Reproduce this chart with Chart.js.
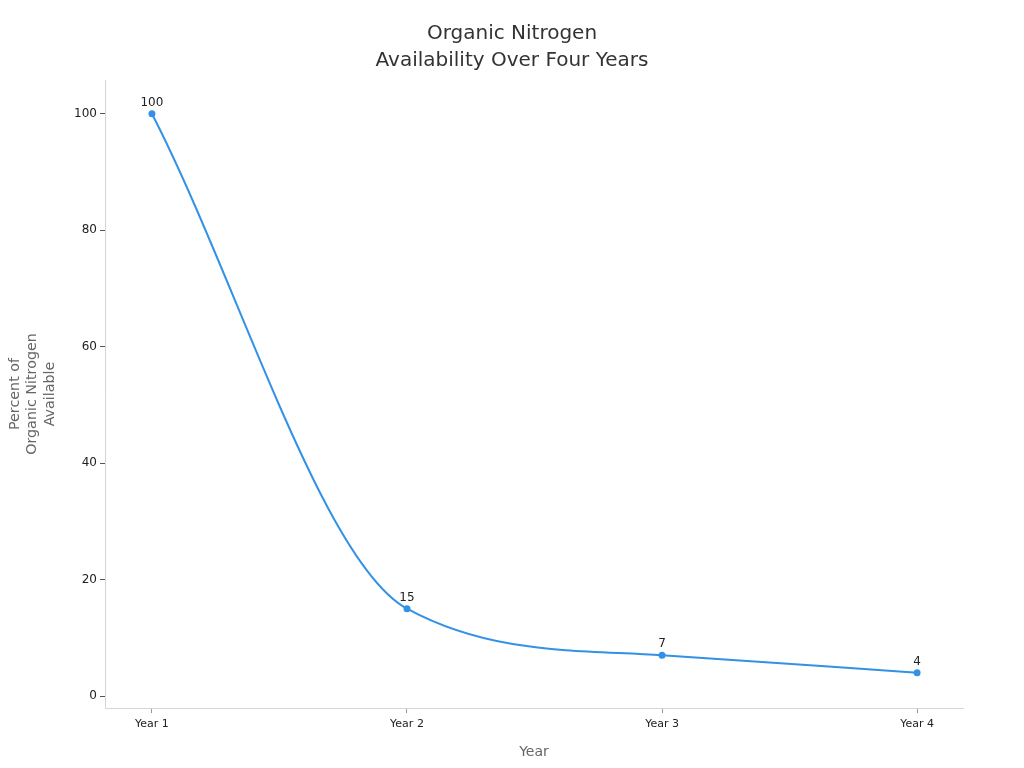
<!DOCTYPE html>
<html><head><meta charset="utf-8">
<script src="https://cdn.jsdelivr.net/npm/chart.js@4"></script>
<style>html,body{margin:0;padding:0;background:#fff}#wrap{width:1024px;height:768px}</style>
</head><body><div id="wrap"><canvas id="c" width="1024" height="768"></canvas></div>
<script>
const categories = ["Year 1", "Year 2", "Year 3", "Year 4"];
const nitrogenValues = [100, 15, 7, 4];
const yTickValues = [0, 20, 40, 60, 80, 100];
const chartTitle = ["Organic Nitrogen", "Availability Over Four Years"];
const yTitle = ["Percent of", "Organic Nitrogen", "Available"];
const xTitle = "Year";

const labelPlugin = {
  id: 'pointLabels',
  afterDatasetsDraw(chart) {
    const ctx = chart.ctx;
    const meta = chart.getDatasetMeta(0);
    ctx.save();
    ctx.font = '12px "DejaVu Sans"';
    ctx.fillStyle = '#222';
    ctx.textAlign = 'center';
    ctx.textBaseline = 'bottom';
    meta.data.forEach((pt, i) => {
      ctx.fillText(String(nitrogenValues[i]), pt.x, pt.y - 5);
    });
    ctx.restore();
  }
};

const titlePlugin = {
  id: 'pageTitle',
  afterDraw(chart) {
    const ctx = chart.ctx;
    ctx.save();
    ctx.font = '20px "DejaVu Sans"';
    ctx.fillStyle = '#333';
    ctx.textAlign = 'center';
    ctx.textBaseline = 'middle';
    chartTitle.forEach((t, i) => ctx.fillText(t, chart.width / 2, 34 + i * 27));
    ctx.restore();
  }
};

Chart.defaults.font.family = '"DejaVu Sans"';
new Chart(document.getElementById('c'), {
  type: 'line',
  data: {
    datasets: [{
      data: nitrogenValues.map((v, i) => ({x: i, y: v})),
      borderColor: '#3391e6',
      backgroundColor: '#3391e6',
      borderWidth: 2,
      pointRadius: 2.5,
      pointHoverRadius: 2.5,
      cubicInterpolationMode: 'monotone',
      fill: false
    }]
  },
  options: {
    responsive: false,
    animation: false,
    layout: {padding: {left: 7, right: 61, top: 80, bottom: 0}},
    plugins: {
      legend: {display: false},
      tooltip: {enabled: false},
      title: {display: false}
    },
    scales: {
      x: {
        type: 'linear',
        min: -0.184,
        max: 3.18,
        afterBuildTicks: s => { s.ticks = categories.map((c, i) => ({value: i})); },
        ticks: {
          callback: v => categories[v],
          color: '#222',
          font: {size: 11},
          padding: 5,
          autoSkip: false,
          maxRotation: 0
        },
        grid: {drawOnChartArea: false, drawTicks: true, tickLength: 5, color: '#999'},
        border: {display: true, color: '#d6d6d6'},
        title: {display: true, text: xTitle, color: '#666', font: {size: 14}, padding: {top: 4, bottom: 7}},
        afterFit: s => { s.height = 60; }
      },
      y: {
        min: -2.06,
        max: 105.8,
        afterBuildTicks: s => { s.ticks = yTickValues.map(v => ({value: v})); },
        ticks: {color: '#222', font: {size: 12}, padding: 3},
        grid: {drawOnChartArea: false, drawTicks: true, tickLength: 5, color: '#555'},
        border: {display: true, color: '#d6d6d6'},
        title: {display: true, text: yTitle, color: '#666', font: {size: 14.3}, lineHeight: 1.25, padding: {top: 0, bottom: 10}},
        afterFit: s => { s.width = 98; }
      }
    }
  },
  plugins: [labelPlugin, titlePlugin]
});
</script></body></html>
